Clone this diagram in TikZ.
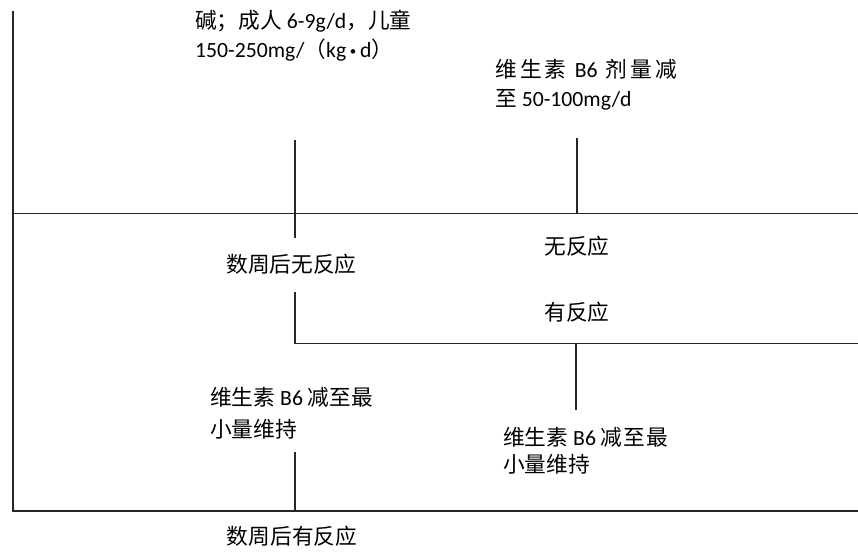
\documentclass[tikz,border=0pt]{standalone}
\usepackage{fontspec}
\setmainfont{Carlito}
\newfontfamily\cjk{Noto Sans CJK SC}
\newcommand{\gp}{\hspace{3.2pt}}
\begin{document}
\begin{tikzpicture}[x=1pt,y=-1pt,
  txt/.style={inner sep=0pt,anchor=base west,font=\fontsize{21.7}{29}\selectfont},
  ctxt/.style={txt,anchor=base},
  ln/.style={draw=black!85,line width=1.6pt}]
\useasboundingbox[fill=white] (0,0) rectangle (858,555);
% texts
\node[txt] (t1a) at (195,28) {{\cjk 碱；成人} 6-9g/d{\cjk ，儿童}};
\node[txt] (t1b) at (195,57) {150-250mg/{\cjk （}kg\,{\fontsize{13}{13}\selectfont\raisebox{1.5pt}{•}}\,d{\cjk ）}};
\node[txt] (t2a) at (495,77) {{\cjk 维\gp 生\gp 素}\gp\ B6\gp\ {\cjk 剂\gp 量\gp 减}};
\node[txt] (t2b) at (495,106) {{\cjk 至} 50-100mg/d};
\node[ctxt] (nw) at (291.5,272.5) {\cjk 数周后无反应};
\node[ctxt] (nr) at (577,254.5) {\cjk 无反应};
\node[ctxt] (yr) at (577,320.5) {\cjk 有反应};
\node[txt] (t3a) at (210,405) {{\cjk 维生素} B6 {\cjk 减至最}};
\node[txt] (t3b) at (210,437.5) {\cjk 小量维持};
\node[txt] (t4a) at (503,445) {{\cjk 维生素} B6 {\cjk 减\hspace{1pt}至\hspace{1pt}最}};
\node[txt] (t4b) at (503,472.5) {\cjk 小量维持};
\node[ctxt] (wy) at (292,544.5) {\cjk 数周后有反应};
% coordinates
\coordinate (ltop) at (13,11);
\coordinate (lbot) at (13,511);
\coordinate (mL) at (13,213.5);
\coordinate (mR) at (858,213.5);
\coordinate (bR) at (858,511);
\coordinate (a1) at (295,140);
\coordinate (a2) at (295,238);
\coordinate (b1) at (577,138);
\coordinate (b2) at (577,213.5);
\coordinate (c1) at (295,292);
\coordinate (c2) at (295,343.5);
\coordinate (c3) at (858,343.5);
\coordinate (d1) at (576,343.5);
\coordinate (d2) at (576,410);
\coordinate (e1) at (295,452);
\coordinate (e2) at (295,511);
% lines
\draw[ln] (ltop) -- (lbot) -- (bR);
\draw[ln] (mL) -- (mR);
\draw[ln] (a1) -- (a2);
\draw[ln] (b1) -- (b2);
\draw[ln] (c1) -- (c2) -- (c3);
\draw[ln] (d1) -- (d2);
\draw[ln] (e1) -- (e2);
\end{tikzpicture}
\end{document}
